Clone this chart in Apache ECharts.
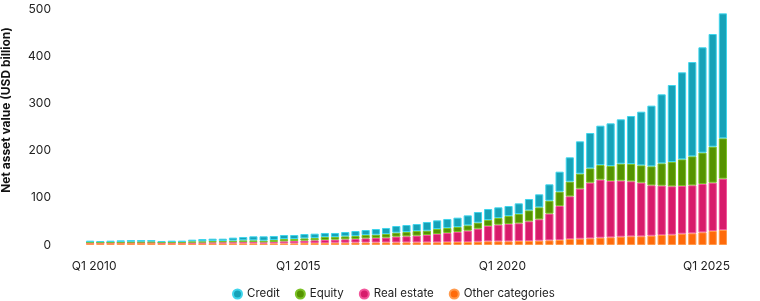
<!DOCTYPE html>
<html><head><meta charset="utf-8">
<script src="https://cdn.jsdelivr.net/npm/echarts@6/dist/echarts.min.js"></script>
<style>html,body{margin:0;padding:0;background:#fff}#c{width:760px;height:301px}</style>
</head><body><div id="c"></div>
<script>
const categories = [
"Q1 2010","Q2 2010","Q3 2010","Q4 2010","Q1 2011","Q2 2011","Q3 2011","Q4 2011",
"Q1 2012","Q2 2012","Q3 2012","Q4 2012","Q1 2013","Q2 2013","Q3 2013","Q4 2013",
"Q1 2014","Q2 2014","Q3 2014","Q4 2014","Q1 2015","Q2 2015","Q3 2015","Q4 2015",
"Q1 2016","Q2 2016","Q3 2016","Q4 2016","Q1 2017","Q2 2017","Q3 2017","Q4 2017",
"Q1 2018","Q2 2018","Q3 2018","Q4 2018","Q1 2019","Q2 2019","Q3 2019","Q4 2019",
"Q1 2020","Q2 2020","Q3 2020","Q4 2020","Q1 2021","Q2 2021","Q3 2021","Q4 2021",
"Q1 2022","Q2 2022","Q3 2022","Q4 2022","Q1 2023","Q2 2023","Q3 2023","Q4 2023",
"Q1 2024","Q2 2024","Q3 2024","Q4 2024","Q1 2025","Q2 2025","Q3 2025"];
const shownTicks = ["Q1 2010","Q1 2015","Q1 2020","Q1 2025"];
const yTicks = [0,100,200,300,400,500];

const otherCategories = [4.5,4.5,4.5,4.6,4.6,4.6,4.6,4.0,4.0,4.0,3.5,3.5,3.5,3.5,3.5,3.5,
 3.5,3.0,3.5,3.5,3.5,4.2,4.2,4.2,4.9,4.9,5.2,5.3,5.4,5.5,5.5,5.6,
 5.6,5.7,5.7,6.4,6.4,6.4,7.1,7.8,7.8,7.8,8.5,8.5,9.2,9.9,10.6,12.7,
 13.4,14.1,15.6,16.3,17.7,18.4,18.4,19.8,21.2,21.9,24.0,24.8,26.9,29.7,31.8];
const realEstate = [0.7,0.7,0.7,0.7,0.8,0.9,1.0,1.0,1.2,1.3,1.4,1.7,2.0,2.3,2.5,2.7,
 2.9,2.7,2.9,4.3,5.0,5.0,5.7,6.4,6.4,7.1,7.5,8.8,9.4,10.1,12.2,12.8,
 14.2,15.5,17.6,19.1,21.2,24.0,27.5,32.5,35.3,36.7,37.5,41.7,45.2,56.6,72.1,90.5,
 106.1,118.1,123.0,119.5,118.8,116.7,113.8,106.8,104.7,102.6,101.2,101.8,102.5,102.5,108.9];
const equity = [0.8,0.8,1.0,1.2,1.4,1.5,1.6,1.0,1.0,1.1,2.9,2.6,3.0,2.7,3.2,3.7,
 3.5,3.5,4.2,4.9,4.2,4.9,4.9,6.4,5.7,6.4,6.4,7.1,7.1,7.7,8.5,9.2,
 9.9,9.2,10.6,10.6,10.6,11.3,12.8,12.7,14.2,17.0,19.8,23.3,25.5,27.5,30.4,31.2,
 31.8,30.4,31.1,31.8,36.0,36.7,36.8,40.3,47.3,51.6,56.5,61.5,66.5,76.4,85.6];
const credit = [3.2,2.5,3.0,3.4,3.8,3.6,3.4,2.5,3.0,2.8,3.5,4.9,4.9,4.9,6.4,7.1,
 8.5,9.2,8.5,8.5,8.5,9.2,9.2,8.5,8.5,9.2,10.6,10.6,12.0,12.8,14.1,14.8,
 14.8,18.4,18.4,19.1,19.8,21.2,22.6,23.4,22.6,21.2,22.6,24.1,27.6,34.7,42.4,51.6,
 68.6,75.0,83.4,90.5,94.1,101.8,113.8,128.7,146.4,163.3,184.6,200.1,223.4,239.0,265.1];

const chart = echarts.init(document.getElementById('c'), null, {renderer:'canvas'});
const FONT = 'Inter';
function ser(name, data, color, border){
  return {name, type:'bar', stack:'total', data, barCategoryGap:'20%',
    itemStyle:{color, borderColor:border, borderWidth:1}, emphasis:{disabled:true}};
}
chart.setOption({
  animation:false,
  textStyle:{fontFamily:FONT},
  grid:{left:85, right:32, top:9.3, bottom:56, containLabel:false},
  legend:{
    data:['Credit','Equity','Real estate','Other categories'],
    left:232, top:288, icon:'circle', itemWidth:9, itemHeight:9, itemGap:15,
    padding:0,
    textStyle:{fontFamily:FONT, fontSize:11.5, color:'#222'}
  },
  xAxis:{type:'category', data:categories,
    axisLine:{show:false}, axisTick:{show:false},
    axisLabel:{interval:(i,v)=>shownTicks.includes(v), margin:15, color:'#222',
      fontFamily:FONT, fontSize:12, padding:[0,0,0,8]}},
  yAxis:{type:'value', min:0, max:500, interval:100,
    axisLine:{show:false}, axisTick:{show:false}, splitLine:{show:false},
    axisLabel:{margin:34, color:'#222', fontFamily:FONT, fontSize:12,
      formatter:v=>yTicks.includes(v)?String(v):''}},
  graphic:[{type:'text', x:6, y:110, rotation:Math.PI/2,
    style:{text:'Net asset value (USD billion)', fontFamily:FONT, fontWeight:'bold',
      fontSize:12, fill:'#111', align:'center', verticalAlign:'middle'}}],
  series:[
    ser('Other categories', otherCategories, '#ff6a0a', '#ff9a4d'),
    ser('Real estate', realEstate, '#d71b6b', '#f2559a'),
    ser('Equity', equity, '#559300', '#7cc227'),
    ser('Credit', credit, '#16a2b8', '#3fd5ec')
  ]
});
</script></body></html>
